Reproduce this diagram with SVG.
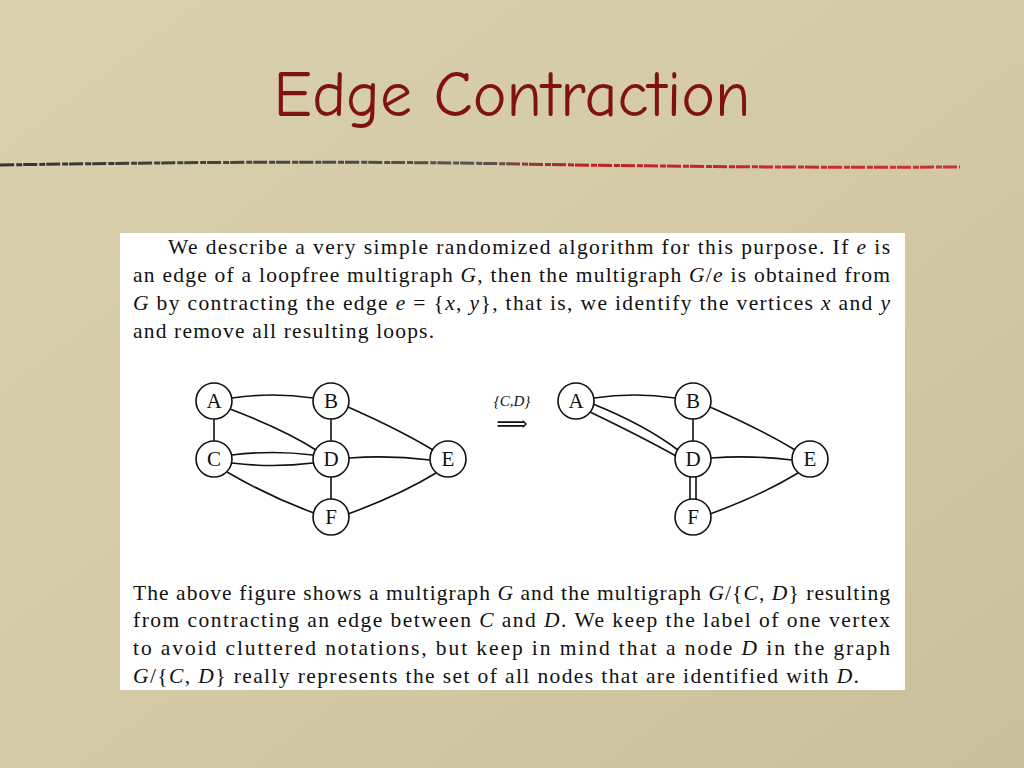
<svg xmlns="http://www.w3.org/2000/svg" width="1024" height="768" viewBox="0 0 1024 768">
<defs>
<linearGradient id="bg" x1="0" y1="0" x2="1" y2="1">
<stop offset="0" stop-color="#d9d0ad"/><stop offset="0.5" stop-color="#d4caa6"/><stop offset="1" stop-color="#c9bf9b"/>
</linearGradient>
<linearGradient id="rule" x1="0" y1="0" x2="1" y2="0">
<stop offset="0" stop-color="#333"/><stop offset="0.5" stop-color="#555"/><stop offset="0.6" stop-color="#b22"/><stop offset="1" stop-color="#c33"/>
</linearGradient>
</defs>
<style>
.t{font-family:"Liberation Serif",serif;font-size:21.5px;fill:#111}
.n circle{fill:#fff;stroke:#111;stroke-width:1.6}
.n text{font-family:"Liberation Serif",serif;font-size:21px;fill:#111;text-anchor:middle}
.e path{fill:none;stroke:#111;stroke-width:1.6}
</style>
<rect width="1024" height="768" fill="url(#bg)"/>
<text x="512" y="116" text-anchor="middle" font-family="'Comic Neue','DejaVu Sans',sans-serif" font-size="64" fill="#7f1212">Edge Contraction</text>
<path d="M0 165 Q300 160 520 164 T960 167" stroke="url(#rule)" stroke-width="3" fill="none" stroke-dasharray="14 2 6 1"/>
<rect x="120" y="233" width="785" height="457" fill="#fff"/>
<text class="t" x="168" y="254" textLength="722" lengthAdjust="spacing">We describe a very simple randomized algorithm for this purpose. If <tspan font-style="italic">e</tspan> is</text>
<text class="t" x="133" y="282" textLength="757" lengthAdjust="spacing">an edge of a loopfree multigraph <tspan font-style="italic">G</tspan>, then the multigraph <tspan font-style="italic">G</tspan>/<tspan font-style="italic">e</tspan> is obtained from</text>
<text class="t" x="133" y="310" textLength="757" lengthAdjust="spacing"><tspan font-style="italic">G</tspan> by contracting the edge <tspan font-style="italic">e</tspan> = {<tspan font-style="italic">x</tspan>, <tspan font-style="italic">y</tspan>}, that is, we identify the vertices <tspan font-style="italic">x</tspan> and <tspan font-style="italic">y</tspan></text>
<text class="t" x="133" y="338" textLength="301" lengthAdjust="spacing">and remove all resulting loops.</text>
<text class="t" x="133" y="600" textLength="757" lengthAdjust="spacing">The above figure shows a multigraph <tspan font-style="italic">G</tspan> and the multigraph <tspan font-style="italic">G</tspan>/{<tspan font-style="italic">C</tspan>, <tspan font-style="italic">D</tspan>} resulting</text>
<text class="t" x="133" y="627" textLength="757" lengthAdjust="spacing">from contracting an edge between <tspan font-style="italic">C</tspan> and <tspan font-style="italic">D</tspan>. We keep the label of one vertex</text>
<text class="t" x="133" y="655" textLength="757" lengthAdjust="spacing">to avoid cluttered notations, but keep in mind that a node <tspan font-style="italic">D</tspan> in the graph</text>
<text class="t" x="133" y="683" textLength="726" lengthAdjust="spacing"><tspan font-style="italic">G</tspan>/{<tspan font-style="italic">C</tspan>, <tspan font-style="italic">D</tspan>} really represents the set of all nodes that are identified with <tspan font-style="italic">D</tspan>.</text>
<text x="512" y="406" text-anchor="middle" font-family="'Liberation Serif',serif" font-size="15" font-style="italic" fill="#111">{C,D}</text>
<text x="512" y="431" text-anchor="middle" font-family="'DejaVu Serif',serif" font-size="22" fill="#111">⟹</text>
<g class="e" id="connectors">
<path d="M232 398 Q272 392 313 398"/>
<path d="M230 409 Q285 430 316 450"/>
<path d="M214 419 L214 441"/>
<path d="M331 419 L331 441"/>
<path d="M348 407 Q400 430 433 450"/>
<path d="M232 455 Q273 450 313 455"/>
<path d="M232 463 Q273 468 313 463"/>
<path d="M349 458 Q390 455 430 460"/>
<path d="M227 472 Q270 497 314 513"/>
<path d="M331 477 L331 499"/>
<path d="M348 514 Q400 495 436 473"/>
<path d="M594 398 Q634 392 675 398"/>
<path d="M593 404 Q645 425 678 450"/>
<path d="M590 412 Q640 436 676 456"/>
<path d="M693 419 L693 441"/>
<path d="M710 407 Q762 430 795 450"/>
<path d="M711 458 Q752 455 792 460"/>
<path d="M690 477 L690 499"/>
<path d="M696 477 L696 499"/>
<path d="M710 514 Q762 495 798 473"/>
</g>
<g class="n" id="L_A"><circle cx="214" cy="401" r="18"/><text x="214" y="408">A</text></g>
<g class="n" id="L_B"><circle cx="331" cy="401" r="18"/><text x="331" y="408">B</text></g>
<g class="n" id="L_C"><circle cx="214" cy="459" r="18"/><text x="214" y="466">C</text></g>
<g class="n" id="L_D"><circle cx="331" cy="459" r="18"/><text x="331" y="466">D</text></g>
<g class="n" id="L_E"><circle cx="448" cy="459" r="18"/><text x="448" y="466">E</text></g>
<g class="n" id="L_F"><circle cx="331" cy="517" r="18"/><text x="331" y="524">F</text></g>
<g class="n" id="R_A"><circle cx="576" cy="401" r="18"/><text x="576" y="408">A</text></g>
<g class="n" id="R_B"><circle cx="693" cy="401" r="18"/><text x="693" y="408">B</text></g>
<g class="n" id="R_D"><circle cx="693" cy="459" r="18"/><text x="693" y="466">D</text></g>
<g class="n" id="R_E"><circle cx="810" cy="459" r="18"/><text x="810" y="466">E</text></g>
<g class="n" id="R_F"><circle cx="693" cy="517" r="18"/><text x="693" y="524">F</text></g>
</svg>
